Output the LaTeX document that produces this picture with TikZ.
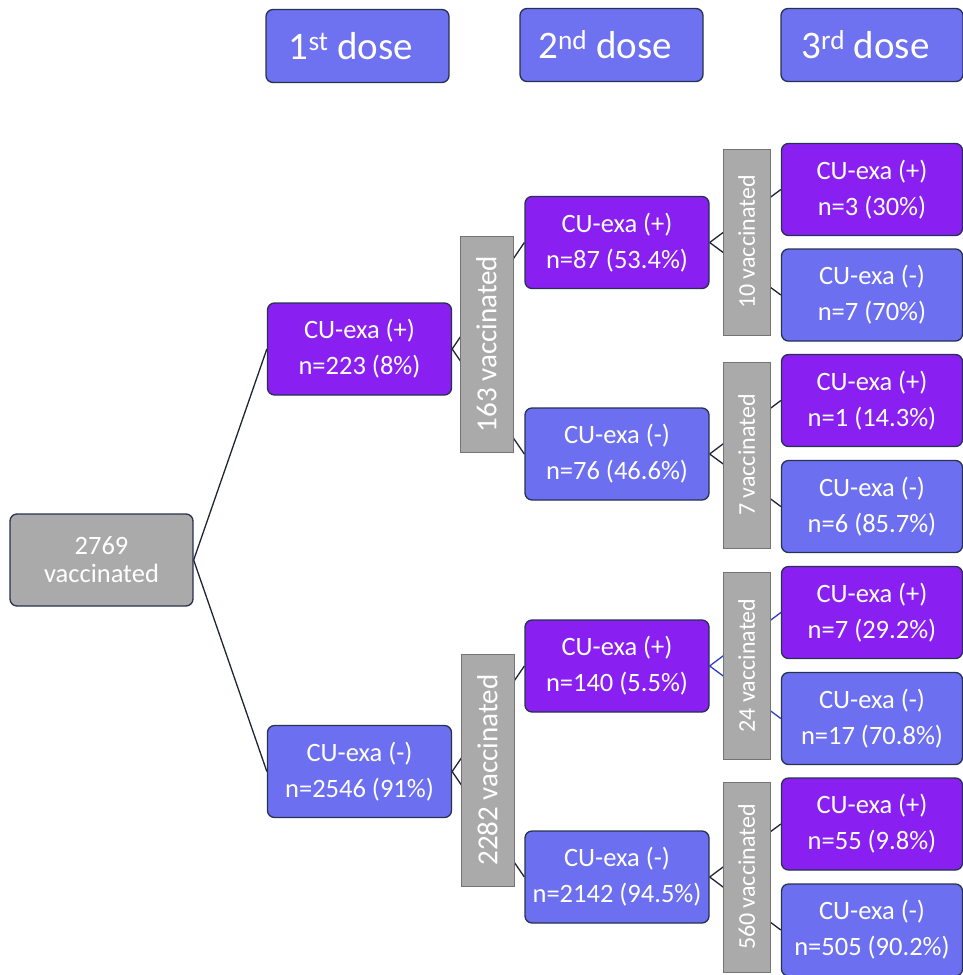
\documentclass[tikz,border=0pt]{standalone}
\usepackage{fontspec}
\setmainfont{Carlito}
\usetikzlibrary{positioning}
\definecolor{dosebox}{HTML}{6E72F0}
\definecolor{cuplus}{HTML}{8A1FF2}
\definecolor{cuminus}{HTML}{6C70F0}
\definecolor{vacgray}{HTML}{AAAAAA}
\definecolor{bargray}{HTML}{747474}
\definecolor{boxline}{HTML}{26324F}
\definecolor{linkline}{HTML}{1E2433}
\definecolor{linkblue}{HTML}{2B3FC0}
\tikzset{%
	% Specifications for style of nodes:
	base/.style = {rectangle, rounded corners=7pt, draw=boxline, line width=1.3pt,
		text=white, align=center, inner sep=0pt,
		minimum width=184pt, minimum height=92pt,
		font=\fontsize{26.5}{36}\selectfont},
	header/.style = {base, fill=dosebox, minimum width=183pt, minimum height=73pt,
		font=\fontsize{39}{42}\selectfont, execute at end node=\hspace*{13pt}},
	total/.style = {base, fill=vacgray, minimum width=183pt,
		font=\fontsize{26.5}{28}\selectfont},
	cuPos/.style = {base, fill=cuplus},
	cuNeg/.style = {base, fill=cuminus},
	cuPosEnd/.style = {cuPos, minimum width=181pt},
	cuNegEnd/.style = {cuNeg, minimum width=181pt},
	countbar/.style = {rectangle, draw=bargray, line width=1pt, fill=vacgray,
		text=white, rotate=90, inner sep=0pt, minimum height=53pt,
		font=\fontsize{29}{30}\selectfont},
	countbarSmall/.style = {countbar, minimum height=47pt,
		font=\fontsize{24}{26}\selectfont},
	link/.style = {draw=linkline, line width=1.3pt},
}
\pgfdeclarelayer{background}
\pgfsetlayers{background,main}

\begin{document}
\begin{tikzpicture}[x=1pt, y=-1pt]
\useasboundingbox (0,0) rectangle (962,975);

%% doses
\node (dose1) [header] at (357.5,46) {1\textsuperscript{st} dose};
\node (dose2) [header] at (611.5,45) {2\textsuperscript{nd} dose};
\node (dose3) [header, minimum width=182pt] at (872,45) {3\textsuperscript{rd} dose};

%% tree
\node (total) [total] at (101.5,560) {2769\\vaccinated};

\node (pos)    [cuPos] at (359.5,349)   {CU-exa (+)\\n=223 (8\%)};
\node (neg)    [cuNeg] at (359.5,771.5) {CU-exa (-)\\n=2546 (91\%)};

\node (pospos) [cuPos] at (617,242.5) {CU-exa (+)\\n=87 (53.4\%)};
\node (posneg) [cuNeg] at (617,454)   {CU-exa (-)\\n=76 (46.6\%)};
\node (negpos) [cuPos] at (617,666)   {CU-exa (+)\\n=140 (5.5\%)};
\node (negneg) [cuNeg] at (617,877)   {CU-exa (-)\\n=2142 (94.5\%)};

\node (pospospos) [cuPosEnd] at (872,189.5) {CU-exa (+)\\n=3 (30\%)};
\node (pospostneg) [cuNegEnd] at (872,295)  {CU-exa (-)\\n=7 (70\%)};
\node (posnegpos) [cuPosEnd] at (872,400.5) {CU-exa (+)\\n=1 (14.3\%)};
\node (posnegneg) [cuNegEnd] at (872,506.5) {CU-exa (-)\\n=6 (85.7\%)};
\node (negpospos) [cuPosEnd] at (872,612.5) {CU-exa (+)\\n=7 (29.2\%)};
\node (negposneg) [cuNegEnd] at (872,718.5) {CU-exa (-)\\n=17 (70.8\%)};
\node (negnegpos) [cuPosEnd] at (872,824)   {CU-exa (+)\\n=55 (9.8\%)};
\node (negnegneg) [cuNegEnd] at (872,930)   {CU-exa (-)\\n=505 (90.2\%)};

%% vaccinated counts, drawn over the lines
\node (barpos) [countbar, minimum width=216pt] at (486.5,344) {163 vaccinated};
\node (barneg) [countbar, minimum width=232pt] at (487.5,770) {2282 vaccinated};
\node (barpospos) [countbarSmall, minimum width=186pt] at (746.5,242)   {10 vaccinated};
\node (barposneg) [countbarSmall, minimum width=186pt] at (746.5,455)   {7 vaccinated};
\node (barnegpos) [countbarSmall, minimum width=187pt] at (746.5,665.5) {24 vaccinated};
\node (barnegneg) [countbarSmall, minimum width=190pt] at (746.5,877)   {560 vaccinated};

%% lines between nodes
\begin{pgfonlayer}{background}
\draw[link] (total.east) -- (pos.west);
\draw[link] (total.east) -- (neg.west);
\draw[link] (pos.east) -- (pospos.west);
\draw[link] (pos.east) -- (posneg.west);
\draw[link] (neg.east) -- (negpos.west);
\draw[link] (neg.east) -- (negneg.west);
\draw[link] (pospos.east) -- (pospospos.west);
\draw[link] (pospos.east) -- (pospostneg.west);
\draw[link] (posneg.east) -- (posnegpos.west);
\draw[link] (posneg.east) -- (posnegneg.west);
\draw[link, draw=linkblue] (negpos.east) -- (negpospos.west);
\draw[link, draw=linkblue] (negpos.east) -- (negposneg.west);
\draw[link] (negneg.east) -- (negnegpos.west);
\draw[link] (negneg.east) -- (negnegneg.west);
\end{pgfonlayer}

\end{tikzpicture}
\end{document}
